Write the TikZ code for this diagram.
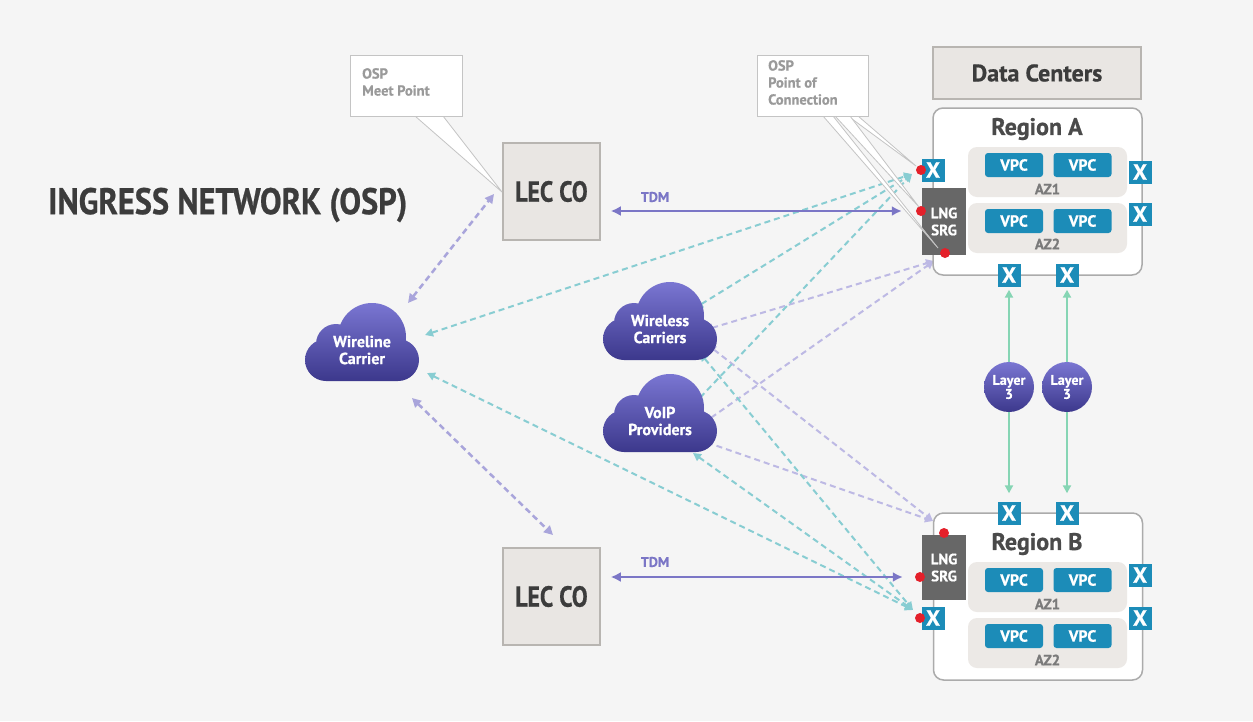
\documentclass[tikz,border=0pt]{standalone}
\usepackage{fontspec}
\setmainfont{PT Sans}[BoldFeatures={FakeBold=0.7}]
\usepackage{graphicx}
\usetikzlibrary{arrows.meta}
\definecolor{bgc}{HTML}{F5F5F5}
\definecolor{lecfill}{HTML}{E9E6E3}
\definecolor{lecline}{HTML}{B8B5B1}
\definecolor{txtdark}{HTML}{3C3C3C}
\definecolor{txtreg}{HTML}{4A4A4A}
\definecolor{azlabc}{HTML}{7A7A7A}
\definecolor{regline}{HTML}{ABABAB}
\definecolor{azfill}{HTML}{ECE9E6}
\definecolor{vpcblue}{HTML}{1C8CB8}
\definecolor{lnggray}{HTML}{676767}
\definecolor{dotred}{HTML}{E4202A}
\definecolor{tdmpurple}{HTML}{7B76C6}
\definecolor{cloudtop}{HTML}{7A76D2}
\definecolor{cloudbot}{HTML}{3C388C}
\definecolor{tealdash}{HTML}{88CDD2}
\definecolor{lavdash}{HTML}{BDB9E4}
\definecolor{lavdark}{HTML}{A9A5DB}
\definecolor{mintc}{HTML}{86D5B4}
\definecolor{callline}{HTML}{C4C4C4}
\definecolor{calltext}{HTML}{9A9A9A}
\tikzset{
  lecbox/.style={draw=lecline, fill=lecfill, line width=1.5pt, minimum width=97pt, minimum height=97pt, inner sep=0pt, text=txtdark, font=\bfseries\fontsize{29}{31}\selectfont},
  dcbox/.style={draw=lecline, fill=lecfill, line width=1.5pt, minimum width=208pt, minimum height=52pt, inner sep=0pt, text=txtdark, font=\bfseries\fontsize{24}{26}\selectfont},
  regbox/.style={draw=regline, fill=white, line width=1.5pt, rounded corners=10pt, minimum width=209pt, minimum height=167pt, inner sep=0pt},
  regtitle/.style={text=txtreg, font=\bfseries\fontsize{24}{26}\selectfont, inner sep=0pt},
  azbox/.style={fill=azfill, rounded corners=9pt, minimum width=159pt, minimum height=50pt, inner sep=0pt},
  vpc/.style={fill=vpcblue, rounded corners=3pt, minimum width=58pt, minimum height=24pt, inner sep=0pt, text=white, font=\bfseries\fontsize{16}{16}\selectfont},
  azlab/.style={text=azlabc, font=\bfseries\fontsize{15}{15}\selectfont, inner sep=0pt},
  xbox/.style={fill=vpcblue, minimum size=23pt, inner sep=0pt, text=white, font=\bfseries\fontsize{22}{22}\selectfont},
  lngbox/.style={fill=lnggray, minimum width=44pt, minimum height=67pt, inner sep=0pt, text=white, align=center, font=\bfseries\fontsize{15}{17}\selectfont},
  reddot/.style={circle, fill=dotred, minimum size=10pt, inner sep=0pt},
  layer/.style={circle, minimum size=50pt, inner sep=0pt, top color=cloudtop, bottom color=cloudbot, text=white, align=center, font=\bfseries\fontsize{14}{14}\selectfont},
  cloudtxt/.style={text=white, align=center, inner sep=0pt, font=\bfseries\fontsize{16}{17}\selectfont},
  callbox/.style={draw=callline, fill=white, line width=0.8pt},
  calltxt/.style={text=calltext, align=left, anchor=north west, inner sep=0pt, font=\bfseries\fontsize{14.5}{17}\selectfont},
  tdmline/.style={draw=tdmpurple, line width=2.5pt, {Latex[length=10pt,width=10pt]}-{Latex[length=10pt,width=10pt]}},
  tdmlab/.style={text=tdmpurple, font=\bfseries\fontsize{14}{14}\selectfont, inner sep=0pt},
  tealline/.style={draw=tealdash, line width=2pt, dash pattern=on 6pt off 4pt, {Triangle[length=8pt,width=8pt]}-{Triangle[length=8pt,width=8pt]}},
  lavline/.style={draw=lavdash, line width=2pt, dash pattern=on 6pt off 4pt, {Triangle[length=8pt,width=8pt]}-{Triangle[length=8pt,width=8pt]}},
  lecline/.style={draw=lavdark, line width=2.5pt, dash pattern=on 6pt off 4pt, {Triangle[length=9pt,width=9pt]}-{Triangle[length=9pt,width=9pt]}},
  mintline/.style={draw=mintc, line width=2.2pt, -{Triangle[length=8pt,width=8pt]}},
  cloudshape/.pic={
    \shade[top color=cloudtop, bottom color=cloudbot]
      (36,-3) arc[start angle=-90,end angle=90,radius=21] -- (-36,39)
      arc[start angle=90,end angle=270,radius=21] -- cycle
      (44,-5) arc[start angle=0,end angle=360,radius=34]
      (-6,2) arc[start angle=0,end angle=360,radius=20];
  }
}
\begin{document}
\begin{tikzpicture}[x=1pt,y=-1pt]
\useasboundingbox (0,0) rectangle (1253,721);
\fill[bgc] (0,0) rectangle (1253,721);

% title
\node[anchor=west, inner sep=0pt, text=txtdark, font=\bfseries\fontsize{37}{40}\selectfont] (title) at (48,205) {\scalebox{0.875}[1]{INGRESS NETWORK (OSP)}};

% coordinates for connector ends
\coordinate (wlA) at (425,335);
\coordinate (wlB) at (427,373);
\coordinate (wlL1) at (408,303);
\coordinate (wlL2) at (412,398);
\coordinate (wsA) at (695,308);
\coordinate (wsB) at (700,353);
\coordinate (wsLA) at (705,330);
\coordinate (wsLB) at (708,345);
\coordinate (voA) at (695,403);
\coordinate (voB) at (693,453);
\coordinate (voLA) at (705,422);
\coordinate (voLB) at (700,440);
\coordinate (tA) at (912,174);
\coordinate (lA) at (934,261);
\coordinate (tB) at (913,610);
\coordinate (lB) at (933,521);
\coordinate (lec1t) at (494,194);
\coordinate (lec2t) at (553,535);

% dashed connectors
\draw[lavline] (wsLA) -- (lA);
\draw[lavline] (voLA) -- (lA);
\draw[lavline] (wsLB) -- (lB);
\draw[lavline] (voLB) -- (lB);
\draw[tealline] (wlA) -- (tA);
\draw[tealline] (wsA) -- (tA);
\draw[tealline] (voA) -- (tA);
\draw[tealline] (wlB) -- (tB);
\draw[tealline] (wsB) -- (tB);
\draw[tealline] (voB) -- (tB);
\draw[lecline] (wlL1) -- (lec1t);
\draw[lecline] (wlL2) -- (lec2t);

% LEC CO boxes
\node[lecbox] (lec1) at (551.5,191.5) {\scalebox{0.82}[1]{LEC CO}};
\node[lecbox] (lec2) at (551.5,596.5) {\scalebox{0.82}[1]{LEC CO}};

% clouds
\pic at (362,342) {cloudshape};
\node[cloudtxt] (wl) at (362,350) {Wireline\\Carrier};
\pic at (660,321) {cloudshape};
\node[cloudtxt] (ws) at (660,329) {Wireless\\Carriers};
\pic at (660,413) {cloudshape};
\node[cloudtxt] (vo) at (660,421) {VoIP\\Providers};

% Data centers
\node[dcbox] (dc) at (1037,73) {Data Centers};

% Region A
\node[regbox] (rA) at (1037.5,191.5) {};
\node[regtitle] (rAt) at (1037,129) {Region A};
\node[azbox] (azA1) at (1047.5,172) {};
\node[vpc] (vA1) at (1014,165) {VPC};
\node[vpc] (vA2) at (1082.5,165) {VPC};
\node[azlab] (lA1) at (1047.5,189) {AZ1};
\node[azbox] (azA2) at (1047.5,228) {};
\node[vpc] (vA3) at (1014,221) {VPC};
\node[vpc] (vA4) at (1082.5,221) {VPC};
\node[azlab] (lA2) at (1047.5,244) {AZ2};
\node[lngbox] (lngA) at (944,221.5) {LNG\\SRG};
\node[xbox] (xA1) at (933,170) {X};
\node[xbox] (xA2) at (1140,172) {X};
\node[xbox] (xA3) at (1140,214) {X};
\node[xbox] (xA4) at (1009,275) {X};
\node[xbox] (xA5) at (1067,275) {X};
\node[reddot] (dA1) at (921,170) {};
\node[reddot] (dA2) at (921,211) {};
\node[reddot] (dA3) at (945,253) {};

% Region B
\node[regbox] (rB) at (1038,596.5) {};
\node[regtitle] (rBt) at (1037,544) {Region B};
\node[azbox] (azB1) at (1047.5,587) {};
\node[vpc] (vB1) at (1014,580) {VPC};
\node[vpc] (vB2) at (1082.5,580) {VPC};
\node[azlab] (lB1) at (1047.5,604) {AZ1};
\node[azbox] (azB2) at (1047.5,643) {};
\node[vpc] (vB3) at (1014,636) {VPC};
\node[vpc] (vB4) at (1082.5,636) {VPC};
\node[azlab] (lB2) at (1047.5,660) {AZ2};
\node[lngbox, minimum height=65pt] (lngB) at (944,567.5) {LNG\\SRG};
\node[xbox] (xB1) at (933,618) {X};
\node[xbox] (xB2) at (1140,575) {X};
\node[xbox] (xB3) at (1140,618) {X};
\node[xbox] (xB4) at (1009,513) {X};
\node[xbox] (xB5) at (1067,513) {X};
\node[reddot] (dB1) at (944,533) {};
\node[reddot] (dB2) at (920,577) {};
\node[reddot] (dB3) at (920,618) {};

% Layer 3
\node[layer] (L1) at (1009,387) {Layer\\3};
\node[layer] (L2) at (1067,387) {Layer\\3};
\draw[mintline, shorten >=3pt] (L1.north) -- (xA4.south);
\draw[mintline, shorten >=3pt] (L2.north) -- (xA5.south);
\draw[mintline, shorten >=8pt] (L1.south) -- (xB4.north);
\draw[mintline, shorten >=8pt] (L2.south) -- (xB5.north);

% TDM
\draw[tdmline, shorten <=10pt, shorten >=14pt] (lec1.east |- dA2) -- (dA2);
\node[tdmlab] (tdm1) at (655,197) {TDM};
\draw[tdmline, shorten <=10pt, shorten >=12pt] (lec2.east |- dB2) -- (dB2);
\node[tdmlab] (tdm2) at (655,562) {TDM};

% callouts
\filldraw[callbox] (415,116) -- (502,192) -- (443,116) -- cycle;
\node[callbox, minimum width=112pt, minimum height=61pt, inner sep=0pt] (cm) at (406,85.5) {};
\node[calltxt] (cmt) at (362,68) {OSP\\Meet Point};

\filldraw[callbox] (848,116) -- (916,166) -- (858,116) -- cycle;
\filldraw[callbox] (835,116) -- (919,207) -- (850,116) -- cycle;
\filldraw[callbox] (823,116) -- (938,248) -- (833,116) -- cycle;
\node[callbox, minimum width=111pt, minimum height=61pt, inner sep=0pt] (cp) at (812.5,85.5) {};
\node[calltxt] (cpt) at (768,60) {OSP\\Point of\\Connection};
\end{tikzpicture}
\end{document}
